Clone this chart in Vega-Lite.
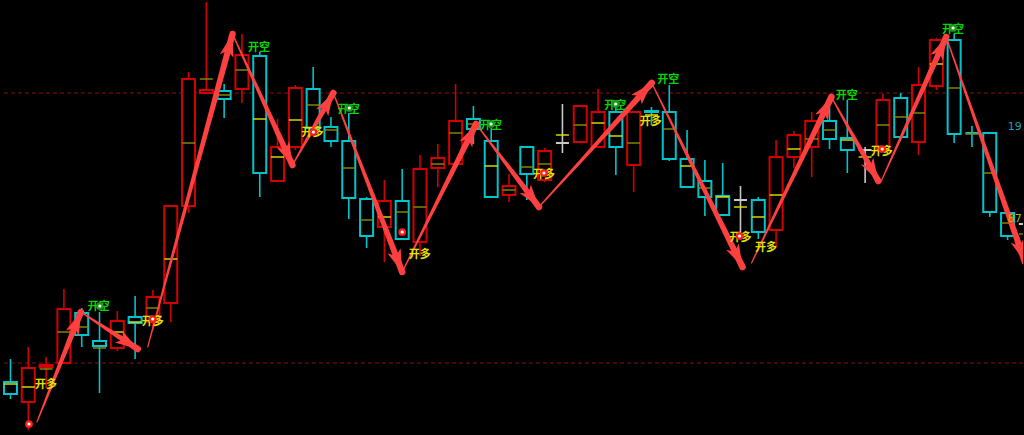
{
  "$schema": "https://vega.github.io/schema/vega-lite/v6.json",
  "width": 1024,
  "height": 435,
  "autosize": {"type": "fit", "contains": "padding"},
  "padding": 0,
  "background": "#000000",
  "config": {"view": {"stroke": null}, "scale": {"continuousPadding": 0}},
  "resolve": {"scale": {"color": "independent", "fill": "independent"}},
  "datasets": {
    "levels": [{"p": 1924.2}, {"p": 1897.2}],
    "candles": [
      {"i":1,"t":"down","o":1895.3,"c":1894.1,"h":1897.6,"l":1893.6,"m":1895.1,"mk":"Y"},
      {"i":2,"t":"up","o":1893.3,"c":1896.7,"h":1898.8,"l":1890.5,"m":1894.8,"mk":"Y"},
      {"i":3,"t":"up","o":1896.8,"c":1897.0,"h":1897.8,"l":1894.7,"m":1896.6,"mk":"O"},
      {"i":4,"t":"up","o":1897.2,"c":1902.6,"h":1904.6,"l":1897.2,"m":1900.3,"mk":"O"},
      {"i":5,"t":"down","o":1902.2,"c":1900.0,"h":1902.7,"l":1898.8,"m":1900.8,"mk":"O"},
      {"i":6,"t":"down","o":1899.4,"c":1898.9,"h":1902.3,"l":1894.2,"m":1898.7,"mk":"O"},
      {"i":7,"t":"up","o":1898.7,"c":1901.4,"h":1902.4,"l":1898.4,"m":1900.3,"mk":"Y"},
      {"i":8,"t":"down","o":1901.8,"c":1901.2,"h":1903.9,"l":1897.6,"m":1901.3,"mk":"Y"},
      {"i":9,"t":"up","o":1901.3,"c":1903.8,"h":1904.5,"l":1900.5,"m":1902.7,"mk":"O"},
      {"i":10,"t":"up","o":1903.2,"c":1912.9,"h":1913.0,"l":1901.3,"m":1907.6,"mk":"Y"},
      {"i":11,"t":"up","o":1912.9,"c":1925.6,"h":1926.3,"l":1912.2,"m":1919.2,"mk":"O"},
      {"i":12,"t":"up","o":1924.2,"c":1924.5,"h":1933.3,"l":1924.2,"m":1925.6,"mk":"O"},
      {"i":13,"t":"down","o":1924.4,"c":1923.6,"h":1925.1,"l":1921.7,"m":1924.0,"mk":"O"},
      {"i":14,"t":"up","o":1924.6,"c":1928.0,"h":1930.1,"l":1923.2,"m":1926.5,"mk":"O"},
      {"i":15,"t":"down","o":1927.9,"c":1916.2,"h":1928.3,"l":1913.8,"m":1921.6,"mk":"Y"},
      {"i":16,"t":"up","o":1915.4,"c":1918.8,"h":1921.6,"l":1915.4,"m":1917.8,"mk":"Y"},
      {"i":17,"t":"up","o":1918.8,"c":1924.7,"h":1925.0,"l":1918.5,"m":1921.5,"mk":"Y"},
      {"i":18,"t":"down","o":1924.6,"c":1920.7,"h":1926.8,"l":1920.5,"m":1923.0,"mk":"O"},
      {"i":19,"t":"down","o":1920.8,"c":1919.4,"h":1921.8,"l":1918.8,"m":1920.5,"mk":"O"},
      {"i":20,"t":"down","o":1919.4,"c":1913.7,"h":1922.2,"l":1911.6,"m":1916.7,"mk":"O"},
      {"i":21,"t":"down","o":1913.6,"c":1909.9,"h":1913.8,"l":1908.7,"m":1911.5,"mk":"O"},
      {"i":22,"t":"up","o":1910.8,"c":1913.4,"h":1915.5,"l":1907.3,"m":1911.8,"mk":"Y"},
      {"i":23,"t":"down","o":1913.4,"c":1909.6,"h":1916.6,"l":1909.5,"m":1912.3,"mk":"O"},
      {"i":24,"t":"up","o":1909.3,"c":1916.6,"h":1918.0,"l":1907.9,"m":1912.8,"mk":"O"},
      {"i":25,"t":"up","o":1916.7,"c":1917.7,"h":1919.1,"l":1914.8,"m":1917.1,"mk":"O"},
      {"i":26,"t":"up","o":1917.1,"c":1921.4,"h":1925.1,"l":1917.1,"m":1920.2,"mk":"O"},
      {"i":27,"t":"down","o":1921.6,"c":1920.6,"h":1922.9,"l":1919.1,"m":1921.1,"mk":"O"},
      {"i":28,"t":"down","o":1919.4,"c":1913.8,"h":1920.7,"l":1913.7,"m":1916.9,"mk":"Y"},
      {"i":29,"t":"up","o":1914.0,"c":1914.9,"h":1916.1,"l":1913.3,"m":1914.5,"mk":"O"},
      {"i":30,"t":"down","o":1918.8,"c":1916.1,"h":1918.8,"l":1913.5,"m":1916.8,"mk":"O"},
      {"i":31,"t":"up","o":1915.5,"c":1918.4,"h":1918.7,"l":1915.3,"m":1917.1,"mk":"O"},
      {"i":32,"t":"doji","o":1919.2,"c":1919.2,"h":1923.1,"l":1918.2,"m":1920.0,"mk":"Y"},
      {"i":33,"t":"up","o":1919.3,"c":1922.9,"h":1922.9,"l":1919.2,"m":1921.0,"mk":"O"},
      {"i":34,"t":"up","o":1918.8,"c":1922.3,"h":1924.6,"l":1918.8,"m":1921.2,"mk":"Y"},
      {"i":35,"t":"down","o":1922.3,"c":1918.8,"h":1923.5,"l":1916.0,"m":1919.9,"mk":"Y"},
      {"i":36,"t":"up","o":1917.0,"c":1922.3,"h":1922.3,"l":1914.3,"m":1919.2,"mk":"O"},
      {"i":37,"t":"down","o":1922.4,"c":1922.3,"h":1922.8,"l":1921.0,"m":1922.0,"mk":"Y"},
      {"i":38,"t":"down","o":1922.3,"c":1917.6,"h":1925.0,"l":1917.4,"m":1920.6,"mk":"O"},
      {"i":39,"t":"down","o":1917.6,"c":1914.8,"h":1920.5,"l":1914.7,"m":1916.9,"mk":"Y"},
      {"i":40,"t":"down","o":1915.4,"c":1913.8,"h":1917.5,"l":1911.9,"m":1914.7,"mk":"O"},
      {"i":41,"t":"down","o":1913.9,"c":1912.0,"h":1917.2,"l":1912.0,"m":1913.8,"mk":"Y"},
      {"i":42,"t":"doji","o":1913.5,"c":1913.5,"h":1914.9,"l":1909.8,"m":1912.8,"mk":"Y"},
      {"i":43,"t":"down","o":1913.5,"c":1910.3,"h":1913.8,"l":1909.6,"m":1911.8,"mk":"Y"},
      {"i":44,"t":"up","o":1910.5,"c":1917.8,"h":1919.5,"l":1908.8,"m":1914.0,"mk":"Y"},
      {"i":45,"t":"up","o":1917.8,"c":1920.0,"h":1920.4,"l":1916.7,"m":1918.6,"mk":"Y"},
      {"i":46,"t":"up","o":1918.8,"c":1921.4,"h":1922.3,"l":1915.8,"m":1919.6,"mk":"O"},
      {"i":47,"t":"down","o":1921.4,"c":1919.6,"h":1923.5,"l":1918.6,"m":1920.5,"mk":"O"},
      {"i":48,"t":"down","o":1919.7,"c":1918.5,"h":1923.5,"l":1916.2,"m":1919.5,"mk":"Y"},
      {"i":49,"t":"doji","o":1918.5,"c":1918.5,"h":1918.8,"l":1915.2,"m":1917.8,"mk":"Y"},
      {"i":50,"t":"up","o":1918.5,"c":1923.5,"h":1924.1,"l":1918.5,"m":1921.0,"mk":"O"},
      {"i":51,"t":"down","o":1923.7,"c":1919.8,"h":1924.2,"l":1919.8,"m":1921.8,"mk":"O"},
      {"i":52,"t":"up","o":1919.3,"c":1925.0,"h":1926.8,"l":1918.0,"m":1922.2,"mk":"O"},
      {"i":53,"t":"up","o":1924.9,"c":1929.5,"h":1929.7,"l":1924.5,"m":1927.1,"mk":"Y"},
      {"i":54,"t":"down","o":1929.5,"c":1920.1,"h":1930.1,"l":1919.2,"m":1924.7,"mk":"O"},
      {"i":55,"t":"down","o":1920.2,"c":1920.2,"h":1920.9,"l":1918.8,"m":1920.1,"mk":"O"},
      {"i":56,"t":"down","o":1920.2,"c":1912.3,"h":1920.3,"l":1911.8,"m":1916.2,"mk":"O"},
      {"i":57,"t":"down","o":1912.2,"c":1909.9,"h":1912.2,"l":1909.5,"m":1911.2,"mk":"O"},
      {"i":58,"t":"doji","o":1911.1,"c":1911.1,"h":1911.6,"l":1909.5,"m":1910.1,"mk":"O"}
    ],
    "arrows": [
      {"s":1,"e":0,"i":2.485,"p":1891.3},{"s":1,"e":1,"i":4.952,"p":1902.3},
      {"s":2,"e":0,"i":4.952,"p":1902.3},{"s":2,"e":1,"i":8.147,"p":1898.6},
      {"s":3,"e":0,"i":8.707,"p":1898.8},{"s":3,"e":1,"i":13.472,"p":1930.1},
      {"s":4,"e":0,"i":13.472,"p":1930.1},{"s":4,"e":1,"i":16.835,"p":1917.0},
      {"s":5,"e":0,"i":16.835,"p":1917.0},{"s":5,"e":1,"i":19.133,"p":1924.2},
      {"s":6,"e":0,"i":19.133,"p":1924.2},{"s":6,"e":1,"i":23.001,"p":1906.3},
      {"s":7,"e":0,"i":23.001,"p":1906.3},{"s":7,"e":1,"i":27.149,"p":1921.1},
      {"s":8,"e":0,"i":27.149,"p":1921.1},{"s":8,"e":1,"i":30.681,"p":1912.8},
      {"s":9,"e":0,"i":30.681,"p":1912.8},{"s":9,"e":1,"i":37.015,"p":1925.2},
      {"s":10,"e":0,"i":37.015,"p":1925.2},{"s":10,"e":1,"i":42.115,"p":1906.8},
      {"s":11,"e":0,"i":42.62,"p":1907.2},{"s":11,"e":1,"i":47.104,"p":1923.8},
      {"s":12,"e":0,"i":47.104,"p":1923.8},{"s":12,"e":1,"i":49.739,"p":1915.4},
      {"s":13,"e":0,"i":49.907,"p":1915.4},{"s":13,"e":1,"i":53.552,"p":1929.8},
      {"s":14,"e":0,"i":53.552,"p":1929.8},{"s":14,"e":1,"i":57.978,"p":1907.3}
    ],
    "labels": [
      {"i":2.99,"p":1895.0,"t":"开多"},
      {"i":5.96,"p":1902.8,"t":"开空"},
      {"i":8.99,"p":1901.3,"t":"开多"},
      {"i":14.96,"p":1928.7,"t":"开空"},
      {"i":17.96,"p":1920.2,"t":"开多"},
      {"i":20.0,"p":1922.5,"t":"开空"},
      {"i":23.98,"p":1908.0,"t":"开多"},
      {"i":27.99,"p":1920.9,"t":"开空"},
      {"i":30.96,"p":1916.0,"t":"开多"},
      {"i":34.97,"p":1922.9,"t":"开空"},
      {"i":36.96,"p":1921.3,"t":"开多"},
      {"i":37.94,"p":1925.5,"t":"开空"},
      {"i":42.0,"p":1909.7,"t":"开多"},
      {"i":43.43,"p":1908.7,"t":"开多"},
      {"i":47.97,"p":1923.9,"t":"开空"},
      {"i":49.94,"p":1918.3,"t":"开多"},
      {"i":53.94,"p":1930.5,"t":"开空"}
    ],
    "dots": [
      {"i":2.04,"p":1891.1,"k":"buy"},
      {"i":8.99,"p":1901.6,"k":"buy"},
      {"i":18.01,"p":1920.3,"k":"buy"},
      {"i":23.0,"p":1910.3,"k":"buy"},
      {"i":30.96,"p":1916.2,"k":"buy"},
      {"i":41.95,"p":1909.9,"k":"buy"},
      {"i":49.96,"p":1918.6,"k":"buy"},
      {"i":6.02,"p":1902.9,"k":"sell"},
      {"i":20.03,"p":1922.7,"k":"sell"},
      {"i":27.99,"p":1921.1,"k":"sell"},
      {"i":34.99,"p":1923.1,"k":"sell"},
      {"i":53.94,"p":1930.7,"k":"sell"}
    ],
    "edge": [
      {"i":57.8,"p":1920.8,"t":"19","k":"a"},
      {"i":57.8,"p":1911.6,"t":"87","k":"b"}
    ]
  },
  "layer": [
    {
      "data": {"name": "levels"},
      "mark": {"type": "rule", "stroke": "#8a1010", "strokeWidth": 1, "strokeDash": [4, 3]},
      "encoding": {
        "y": {"field": "p", "type": "quantitative", "scale": {"domain": [1890, 1933.5], "nice": false, "zero": false, "padding": 0}, "axis": null}
      }
    },
    {
      "data": {"name": "candles"},
      "mark": {"type": "rule", "strokeWidth": 1.6, "clip": true},
      "encoding": {
        "x": {"field": "i", "type": "quantitative", "scale": {"domain": [0.4675, 57.867], "nice": false, "zero": false, "padding": 0}, "axis": null},
        "y": {"field": "l", "type": "quantitative", "scale": {"domain": [1890, 1933.5], "nice": false, "zero": false, "padding": 0}, "axis": null},
        "y2": {"field": "h"},
        "stroke": {"field": "t", "type": "nominal", "scale": {"domain": ["up", "down", "doji"], "range": ["#d20000", "#00c4cc", "#c8c8c8"]}, "legend": null}
      }
    },
    {
      "data": {"name": "candles"},
      "mark": {"type": "bar", "size": 13, "fill": "#000000", "strokeWidth": 2, "clip": true},
      "encoding": {
        "x": {"field": "i", "type": "quantitative", "scale": {"domain": [0.4675, 57.867], "nice": false, "zero": false, "padding": 0}, "axis": null},
        "y": {"field": "o", "type": "quantitative", "scale": {"domain": [1890, 1933.5], "nice": false, "zero": false, "padding": 0}, "axis": null},
        "y2": {"field": "c"},
        "stroke": {"field": "t", "type": "nominal", "scale": {"domain": ["up", "down", "doji"], "range": ["#d20000", "#00c4cc", "#c8c8c8"]}, "legend": null}
      }
    },
    {
      "data": {"name": "candles"},
      "mark": {"type": "tick", "orient": "horizontal", "size": 13, "thickness": 2, "clip": true},
      "encoding": {
        "x": {"field": "i", "type": "quantitative", "scale": {"domain": [0.4675, 57.867], "nice": false, "zero": false, "padding": 0}, "axis": null},
        "y": {"field": "m", "type": "quantitative", "scale": {"domain": [1890, 1933.5], "nice": false, "zero": false, "padding": 0}, "axis": null},
        "color": {"field": "mk", "type": "nominal", "scale": {"domain": ["Y", "O"], "range": ["#e2e200", "#8c8c00"]}, "legend": null}
      }
    },
    {
      "data": {"name": "arrows"},
      "mark": {"type": "trail", "color": "#ff4040", "clip": true},
      "encoding": {
        "x": {"field": "i", "type": "quantitative", "scale": {"domain": [0.4675, 57.867], "nice": false, "zero": false, "padding": 0}, "axis": null},
        "y": {"field": "p", "type": "quantitative", "scale": {"domain": [1890, 1933.5], "nice": false, "zero": false, "padding": 0}, "axis": null},
        "detail": {"field": "s", "type": "nominal"},
        "size": {"field": "e", "type": "quantitative", "scale": {"domain": [0, 1], "range": [1.2, 6.5]}, "legend": null}
      }
    },
    {
      "data": {"name": "arrows"},
      "transform": [
        {"window": [{"op": "lag", "field": "i", "as": "i0"}, {"op": "lag", "field": "p", "as": "p0"}], "groupby": ["s"], "sort": [{"field": "e"}]},
        {"filter": "datum.e == 1"},
        {"calculate": "atan2((datum.i - datum.i0) * 17.84, (datum.p - datum.p0) * 10) * 180 / PI", "as": "ang"}
      ],
      "mark": {"type": "point", "shape": "M0,0L0.62,2L0,1.5L-0.62,2Z", "filled": true, "color": "#ff4040", "opacity": 1, "size": 520, "strokeWidth": 0, "clip": true},
      "encoding": {
        "x": {"field": "i", "type": "quantitative", "scale": {"domain": [0.4675, 57.867], "nice": false, "zero": false, "padding": 0}, "axis": null},
        "y": {"field": "p", "type": "quantitative", "scale": {"domain": [1890, 1933.5], "nice": false, "zero": false, "padding": 0}, "axis": null},
        "angle": {"field": "ang", "type": "quantitative", "scale": null}
      }
    },
    {
      "data": {"name": "labels"},
      "mark": {"type": "text", "font": "Noto Sans CJK SC", "fontSize": 11, "fontWeight": "bold", "align": "center", "baseline": "middle", "clip": true},
      "encoding": {
        "x": {"field": "i", "type": "quantitative", "scale": {"domain": [0.4675, 57.867], "nice": false, "zero": false, "padding": 0}, "axis": null},
        "y": {"field": "p", "type": "quantitative", "scale": {"domain": [1890, 1933.5], "nice": false, "zero": false, "padding": 0}, "axis": null},
        "text": {"field": "t"},
        "color": {"field": "t", "type": "nominal", "scale": {"domain": ["开多", "开空"], "range": ["#e6e000", "#00d800"]}, "legend": null}
      }
    },
    {
      "data": {"name": "dots"},
      "mark": {"type": "point", "shape": "circle", "filled": true, "opacity": 1, "size": 60, "clip": true},
      "encoding": {
        "x": {"field": "i", "type": "quantitative", "scale": {"domain": [0.4675, 57.867], "nice": false, "zero": false, "padding": 0}, "axis": null},
        "y": {"field": "p", "type": "quantitative", "scale": {"domain": [1890, 1933.5], "nice": false, "zero": false, "padding": 0}, "axis": null},
        "fill": {"field": "k", "type": "nominal", "scale": {"domain": ["buy", "sell"], "range": ["#ff1e1e", "#1a9a1a"]}, "legend": null}
      }
    },
    {
      "data": {"name": "dots"},
      "mark": {"type": "point", "shape": "circle", "filled": true, "opacity": 1, "size": 10, "color": "#ffffff", "clip": true},
      "encoding": {
        "x": {"field": "i", "type": "quantitative", "scale": {"domain": [0.4675, 57.867], "nice": false, "zero": false, "padding": 0}, "axis": null},
        "y": {"field": "p", "type": "quantitative", "scale": {"domain": [1890, 1933.5], "nice": false, "zero": false, "padding": 0}, "axis": null}
      }
    },
    {
      "data": {"name": "edge"},
      "mark": {"type": "text", "font": "DejaVu Sans", "fontSize": 11, "align": "right", "baseline": "middle", "clip": true},
      "encoding": {
        "x": {"field": "i", "type": "quantitative", "scale": {"domain": [0.4675, 57.867], "nice": false, "zero": false, "padding": 0}, "axis": null},
        "y": {"field": "p", "type": "quantitative", "scale": {"domain": [1890, 1933.5], "nice": false, "zero": false, "padding": 0}, "axis": null},
        "text": {"field": "t"},
        "color": {"field": "k", "type": "nominal", "scale": {"domain": ["a", "b"], "range": ["#1e9ec0", "#b8b400"]}, "legend": null}
      }
    }
  ]
}
